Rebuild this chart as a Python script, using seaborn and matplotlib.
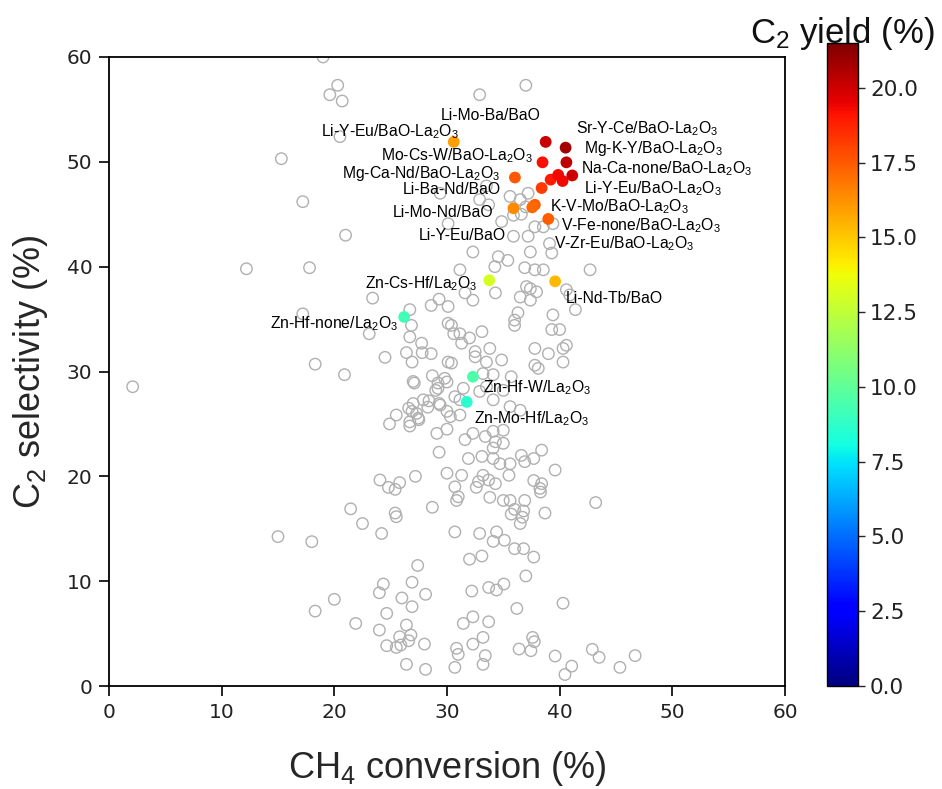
import matplotlib
matplotlib.use("Agg")
import matplotlib.pyplot as plt
import pandas as pd
import seaborn as sns
from matplotlib.colors import Normalize
from matplotlib.cm import ScalarMappable

sns.set_style("ticks")
plt.rcParams["font.family"] = ["DejaVu Sans"]
plt.rcParams["mathtext.default"] = "regular"

LABEL_FONT = ["Liberation Sans", "DejaVu Sans"]
JET = matplotlib.colormaps["jet"]

# ---- screened catalysts (grey open circles): CH4 conversion (%), C2 selectivity (%)
conv_other = [
    19.0, 20.3, 19.6, 20.7, 20.5, 15.3, 17.2, 21.0, 12.2, 17.8, 23.4, 26.7, 29.3, 28.6,
    30.1, 17.2, 23.1, 26.7, 27.75, 26.4, 27.8, 28.6, 24.5, 18.3, 26.9, 30.1, 30.1, 26.85,
    2.1, 20.9, 27.1, 28.7, 29.2, 30.0, 29.0, 27.0, 26.6, 26.9, 25.5, 28.4, 28.3, 29.3,
    30.0, 27.5, 24.9, 26.7, 30.0, 29.3, 27.2, 24.05, 24.8, 25.4, 25.8, 30.0, 28.7, 21.45,
    22.5, 25.4, 25.5, 24.2, 15.0, 18.0, 27.4, 24.35, 24.0, 26.9, 28.1, 26.0, 26.9, 20.0,
    18.3, 24.65, 21.9, 24.0, 26.4, 26.8, 25.8, 26.6, 24.65, 25.5, 25.9, 28.0, 26.4, 28.1,
    32.9, 37.0,
    29.4, 33.5, 32.9, 33.7, 35.6, 37.2, 36.5, 37.0, 35.9, 36.6, 34.85, 35.9, 37.8, 38.55,
    39.4, 37.2, 39.1, 32.3, 34.55, 37.4, 30.1, 35.4, 34.25, 39.3, 42.7, 36.9, 37.8, 38.55,
    37.06, 37.95, 40.6, 40.9, 31.15,
    34.3, 36.5, 37.4, 37.4, 41.4, 39.4, 36.3, 36.0, 36.0, 39.3, 40.0, 31.6, 32.3, 31.15,
    32.0, 33.1, 31.3, 32.5, 33.8, 32.5, 34.85, 33.5, 37.8, 37.8, 38.1, 39.0, 40.3, 40.6,
    40.3, 30.4, 29.8, 33.2,
    30.4, 30.6, 27.0, 29.2, 34.1, 35.7, 33.5, 32.9, 34.1, 35.0, 35.6, 36.5, 31.15, 30.7,
    27.3, 26.7, 31.15,
    31.45, 27.9, 29.4, 30.3, 27.45, 29.1,
    31.6, 32.3, 33.4, 34.1, 35.0, 34.3, 35.0, 34.1, 34.1, 34.7, 35.6, 33.1, 31.9, 36.6,
    36.9, 37.7, 38.4, 39.6, 35.5, 33.2, 33.7, 34.3, 32.8, 32.6, 31.3, 30.7, 30.85, 31.0,
    33.8, 35.0, 35.6, 36.9, 36.0, 35.7, 36.8, 36.7, 36.5, 38.7, 37.7, 38.4, 38.25, 38.3,
    43.2, 30.7, 32.9, 34.4, 34.1, 35.1, 36.0, 36.8, 37.7, 33.1, 32.0,
    37.0, 32.2, 33.7, 34.4, 35.05, 36.2, 40.3, 31.45, 32.3, 33.7, 33.2, 32.3, 30.85, 31.0,
    30.7, 33.4, 33.2, 36.4, 37.6, 37.75, 37.45, 39.6, 41.07, 40.47, 42.9, 43.5, 45.35, 46.7,
]
sel_other = [
    60.0, 57.3, 56.4, 55.8, 52.4, 50.3, 46.2, 43.0, 39.8, 39.9, 37.0, 35.9, 36.9, 36.3,
    36.2, 35.5, 33.6, 33.3, 32.7, 31.8, 31.8, 31.7, 31.35, 30.7, 30.9, 30.9, 34.6, 34.4,
    28.55, 29.7, 28.9, 29.6, 28.9, 29.0, 28.2, 26.95, 26.5, 26.2, 25.85, 27.2, 26.6, 26.95,
    26.2, 25.4, 25.0, 24.8, 24.5, 22.3, 20.0, 19.65, 18.95, 18.76, 19.4, 20.3, 17.05, 16.9,
    15.5, 16.5, 16.15, 14.55, 14.25, 13.77, 11.5, 9.73, 8.9, 9.9, 8.75, 8.4, 7.57, 8.27,
    7.15, 6.93, 5.97, 5.34, 5.82, 4.87, 4.7, 4.32, 3.85, 3.69, 3.91, 4.0, 2.07, 1.59,
    56.4, 57.3,
    47.0, 47.7, 46.4, 45.9, 46.7, 47.0, 46.4, 45.7, 44.9, 45.0, 44.3, 42.9, 43.8, 43.8,
    44.1, 42.9, 42.2, 41.4, 40.95, 41.4, 44.1, 40.6, 40.0, 41.3, 39.7, 39.9, 39.7, 39.7,
    38.1, 37.6, 37.8, 37.3, 39.7,
    37.5, 37.1, 36.8, 37.9, 35.9, 35.4, 35.6, 34.9, 34.4, 34.0, 34.0, 37.5, 36.8, 33.6,
    33.2, 33.8, 32.7, 31.9, 32.2, 31.4, 31.1, 30.9, 32.2, 30.6, 30.3, 31.7, 32.2, 32.5,
    30.9, 30.8, 29.35, 29.8,
    34.4, 33.6, 29.05, 28.4, 29.7, 29.5, 28.55, 28.1, 27.3, 28.2, 26.65, 26.3, 27.3, 27.6,
    26.0, 25.2, 25.85,
    28.4, 27.3, 26.8, 25.7, 25.55, 24.1,
    23.5, 24.1, 23.8, 24.3, 24.4, 23.3, 23.15, 22.7, 21.7, 21.2, 21.2, 21.9, 21.7, 22.0,
    21.4, 21.7, 22.5, 20.6, 20.1, 20.1, 19.65, 19.3, 19.5, 18.95, 20.1, 19.0, 17.7, 18.05,
    18.0, 17.7, 17.7, 17.7, 16.85, 16.4, 16.7, 16.1, 15.5, 16.5, 19.6, 19.3, 18.85, 18.5,
    17.5, 14.7, 14.55, 14.7, 13.8, 13.9, 13.1, 13.1, 12.3, 12.4, 12.1,
    10.5, 9.06, 9.4, 9.16, 9.73, 7.4, 7.9, 5.97, 6.6, 6.13, 4.64, 4.0, 3.6, 3.02,
    1.78, 2.9, 2.07, 3.53, 4.64, 4.23, 3.37, 2.86, 1.9, 1.1, 3.5, 2.74, 1.78, 2.9,
]

# ---- best performers, coloured by C2 yield (%)
conv_top = [30.6, 38.76, 40.53, 38.48, 40.6, 36.03, 39.2, 39.87, 40.26, 41.12,
            38.4, 35.9, 37.8, 37.57, 38.99, 33.75, 39.6, 26.2, 32.3, 31.75]
sel_top = [51.9, 51.9, 51.35, 49.95, 49.95, 48.5, 48.3, 48.75, 48.17, 48.7,
           47.5, 45.57, 45.9, 45.66, 44.55, 38.7, 38.6, 35.2, 29.5, 27.1]
yield_top = [15.9, 20.1, 20.8, 19.2, 20.3, 17.5, 18.9, 19.4, 19.4, 20.0,
             18.2, 16.4, 17.35, 17.2, 17.4, 13.1, 15.3, 9.2, 9.5, 8.6]

catalyst_names = [
    "Li-Mo-Ba/BaO", "Li-Y-Eu/BaO-La$_2$O$_3$", "Mo-Cs-W/BaO-La$_2$O$_3$",
    "Mg-Ca-Nd/BaO-La$_2$O$_3$", "Li-Ba-Nd/BaO", "Li-Mo-Nd/BaO", "Li-Y-Eu/BaO",
    "Sr-Y-Ce/BaO-La$_2$O$_3$", "Mg-K-Y/BaO-La$_2$O$_3$", "Na-Ca-none/BaO-La$_2$O$_3$",
    "Li-Y-Eu/BaO-La$_2$O$_3$", "K-V-Mo/BaO-La$_2$O$_3$", "V-Fe-none/BaO-La$_2$O$_3$",
    "V-Zr-Eu/BaO-La$_2$O$_3$", "Zn-Cs-Hf/La$_2$O$_3$", "Li-Nd-Tb/BaO",
    "Zn-Hf-none/La$_2$O$_3$", "Zn-Hf-W/La$_2$O$_3$", "Zn-Mo-Hf/La$_2$O$_3$",
]

# text placement for the catalyst names (data coords, horizontal alignment)
name_layout = [
    (33.9, 54.4, "center"), (31.06, 52.9, "right"), (37.63, 50.55, "right"),
    (34.7, 48.85, "right"), (34.8, 47.35, "right"), (34.1, 45.2, "right"),
    (35.2, 43.0, "right"),
    (41.45, 53.15, "left"), (42.16, 51.25, "left"), (41.9, 49.35, "left"),
    (42.16, 47.45, "left"), (39.14, 45.75, "left"), (40.1, 43.95, "left"),
    (39.5, 42.2, "left"),
    (32.75, 38.4, "right"), (40.56, 37.0, "left"), (25.65, 34.6, "right"),
    (33.2, 28.5, "left"), (32.4, 25.5, "left"),
]

YIELD_MAX = 21.5
norm = Normalize(vmin=0.0, vmax=YIELD_MAX)

fig = plt.figure(figsize=(9.42, 7.89), dpi=100)
ax = fig.add_axes([0.1157, 0.1305, 0.7176, 0.7973])
cax = fig.add_axes([0.878, 0.1305, 0.033, 0.815])

others = pd.DataFrame({"conv": conv_other, "sel": sel_other})
best = pd.DataFrame({"conv": conv_top, "sel": sel_top, "yield": yield_top})

sns.scatterplot(data=others, x="conv", y="sel", ax=ax, s=68, legend=False, zorder=2)
grey = ax.collections[-1]
grey.set_facecolor("none")
grey.set_edgecolor("#b0b0b0")
grey.set_linewidth(1.0)

sns.scatterplot(data=best, x="conv", y="sel", hue="yield", palette=JET,
                hue_norm=norm, ax=ax, s=72, linewidth=0, legend=False, zorder=3)

for name, (tx, ty, ha) in zip(catalyst_names, name_layout):
    ax.text(tx, ty, name, ha=ha, va="center", fontsize=11.3,
            family=LABEL_FONT, color="black", zorder=4)

ax.set_xlim(0, 60)
ax.set_ylim(0, 60)
ax.set_xticks(range(0, 61, 10))
ax.set_yticks(range(0, 61, 10))
ax.tick_params(axis="both", labelsize=14.5, length=7, width=1.2, pad=5,
               color="black", labelcolor="#222222")
for sp in ax.spines.values():
    sp.set_visible(True)
    sp.set_linewidth(1.3)
    sp.set_color("black")

ax.set_xlabel("CH$_4$ conversion (%)", fontsize=26, family=LABEL_FONT, labelpad=20)
ax.set_ylabel("C$_2$ selectivity (%)", fontsize=26, family=LABEL_FONT, labelpad=12)

cb = fig.colorbar(ScalarMappable(norm=norm, cmap=JET), cax=cax)
cb_ticks = [0, 2.5, 5, 7.5, 10, 12.5, 15, 17.5, 20]
cb.set_ticks(cb_ticks)
cb.ax.set_yticklabels([f"{t:.1f}" for t in cb_ticks])
cb.ax.tick_params(labelsize=15.5, length=5, width=1.0, labelcolor="#222222")
cb.outline.set_linewidth(1.0)
cb.outline.set_edgecolor("black")

# colourbar heading, centred over the bar
cax.text(0.5, 1.0, "C$_2$ yield (%)", transform=cax.transAxes, ha="center",
         va="baseline", fontsize=25, family=LABEL_FONT, color="#111111")

fig.savefig("out.png", dpi=100)
